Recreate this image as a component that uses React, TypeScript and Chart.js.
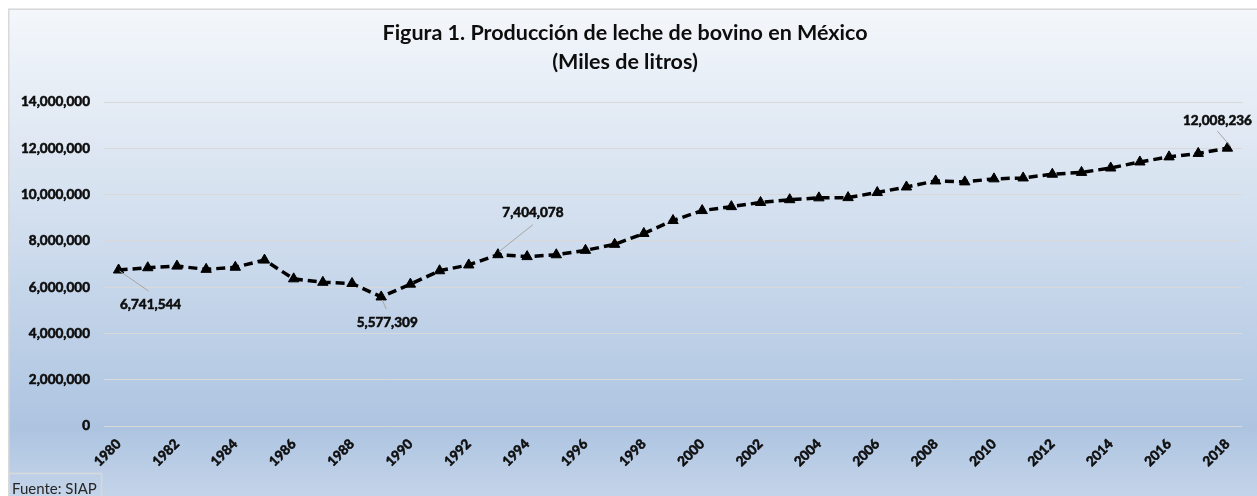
import React, { useEffect, useRef } from 'react';
import { Chart, registerables } from 'chart.js';

Chart.register(...registerables);

const years = [
  '1980', '1981', '1982', '1983', '1984', '1985', '1986', '1987', '1988', '1989',
  '1990', '1991', '1992', '1993', '1994', '1995', '1996', '1997', '1998', '1999',
  '2000', '2001', '2002', '2003', '2004', '2005', '2006', '2007', '2008', '2009',
  '2010', '2011', '2012', '2013', '2014', '2015', '2016', '2017', '2018',
];

const production = [
  6741544, 6840000, 6910000, 6770000, 6860000, 7170000, 6360000, 6210000, 6160000, 5577309,
  6130000, 6710000, 6960000, 7404078, 7320000, 7400000, 7590000, 7850000, 8320000, 8880000,
  9310000, 9480000, 9660000, 9780000, 9860000, 9870000, 10090000, 10330000, 10590000, 10550000,
  10680000, 10720000, 10880000, 10960000, 11150000, 11410000, 11630000, 11780000, 12008236,
];

const yTickValues = [0, 2000000, 4000000, 6000000, 8000000, 10000000, 12000000, 14000000];

const labeledYears = ['1980', '1989', '1993', '2018'];

const titleLines = ['Figura 1. Producción de leche de bovino en México', '(Miles de litros)'];
const sourceText = 'Fuente: SIAP';

// callout placement (style): text offset and leader end relative to the point
const calloutStyle: Record<string, { tx: number; ty: number; lx1: number; ly1: number; lx2: number; ly2: number }> = {
  '1980': { tx: 32, ty: 35, lx1: 1, ly1: 1, lx2: 30, ly2: 21 },
  '1989': { tx: 6, ty: 26, lx1: 1, ly1: 3, lx2: 5, ly2: 12 },
  '1993': { tx: 35, ty: -42, lx1: 1, ly1: -3, lx2: 35, ly2: -30 },
  '2018': { tx: -10, ty: -27, lx1: 3, ly1: -2, lx2: -10, ly2: -17 },
};

const FONT = 'Lato, "Open Sans", sans-serif';
const TEXT_COLOR = '#0d0d0d';
const fmt = (v: number) => v.toLocaleString('en-US');

const W = 1249;
const H = 488;

export default function App() {
  const canvasRef = useRef<HTMLCanvasElement | null>(null);

  useEffect(() => {
    if (!canvasRef.current) return;

    const bgPlugin = {
      id: 'bgPlugin',
      beforeDraw(chart: any) {
        const { ctx, width, height } = chart;
        ctx.save();
        const g = ctx.createLinearGradient(0, 0, 0, height);
        g.addColorStop(0, '#f4f7fb');
        g.addColorStop(0.45, '#d1deee');
        g.addColorStop(0.86, '#adc4e1');
        g.addColorStop(1, '#c4d4e9');
        ctx.fillStyle = g;
        ctx.fillRect(0, 0, width, height);
        ctx.restore();
      },
      afterDraw(chart: any) {
        const { ctx, width, height } = chart;
        ctx.save();
        ctx.strokeStyle = '#d9d9d9';
        ctx.lineWidth = 1.5;
        ctx.strokeRect(0.75, 1.25, width + 10, height + 10);
        // source box
        ctx.font = `15px ${FONT}`;
        const tw = ctx.measureText(sourceText).width;
        ctx.strokeStyle = '#d9d9d9';
        ctx.lineWidth = 1.5;
        ctx.strokeRect(0.75, 465.5, tw + 8, 40);
        ctx.fillStyle = '#262626';
        ctx.textAlign = 'left';
        ctx.textBaseline = 'middle';
        ctx.fillText(sourceText, 4, 481);
        ctx.restore();
      },
    };

    const calloutPlugin = {
      id: 'calloutPlugin',
      afterDatasetsDraw(chart: any) {
        const { ctx } = chart;
        const meta = chart.getDatasetMeta(0);
        ctx.save();
        labeledYears.forEach((yr) => {
          const i = years.indexOf(yr);
          const pt = meta.data[i];
          const s = calloutStyle[yr];
          if (!pt || !s) return;
          const x = pt.x;
          const y = pt.y;
          ctx.strokeStyle = '#a6a6a6';
          ctx.lineWidth = 1;
          ctx.beginPath();
          ctx.moveTo(x + s.lx1, y + s.ly1);
          ctx.lineTo(x + s.lx2, y + s.ly2);
          ctx.stroke();
          ctx.fillStyle = TEXT_COLOR;
          ctx.strokeStyle = TEXT_COLOR;
          ctx.lineWidth = 0.6;
          ctx.font = `bold 13.5px ${FONT}`;
          ctx.textAlign = 'center';
          ctx.textBaseline = 'middle';
          const label = fmt(production[i]);
          ctx.fillText(label, x + s.tx, y + s.ty);
          ctx.strokeText(label, x + s.tx, y + s.ty);
        });
        ctx.restore();
      },
    };

    const chart = new Chart(canvasRef.current, {
      type: 'line',
      data: {
        labels: years,
        datasets: [
          {
            label: 'Producción',
            data: production,
            borderColor: '#000000',
            backgroundColor: '#000000',
            borderWidth: 3.5,
            borderDash: [9, 5],
            borderCapStyle: 'butt',
            tension: 0,
            pointStyle: 'triangle',
            pointRadius: 6,
            pointBorderWidth: 1,
            pointBackgroundColor: '#000000',
            pointBorderColor: '#000000',
          },
        ],
      },
      options: {
        animation: false,
        responsive: true,
        maintainAspectRatio: false,
        layout: { padding: { left: 0, right: 15, top: 0, bottom: 0 } },
        plugins: {
          legend: { display: false },
          tooltip: { enabled: false },
          title: {
            display: true,
            text: titleLines,
            color: TEXT_COLOR,
            font: { family: FONT, size: 21.5, weight: 'bold', lineHeight: 1.35 },
            padding: { top: 10.5, bottom: 25.5 },
          },
        },
        scales: {
          x: {
            offset: true,
            grid: { display: false },
            border: { display: false },
            ticks: {
              autoSkip: false,
              maxRotation: 45,
              minRotation: 45,
              color: TEXT_COLOR,
              textStrokeColor: TEXT_COLOR,
              textStrokeWidth: 0.6,
              padding: 2,
              font: { family: FONT, size: 13.5, weight: 'bold' },
              callback: (_v: any, idx: number) => (idx % 2 === 0 ? years[idx] : ''),
            },
            afterFit: (scale: any) => {
              scale.height = 70;
            },
          },
          y: {
            min: 0,
            max: 14000000,
            border: { display: false },
            grid: { color: '#d9d9d9', lineWidth: 1, drawTicks: false },
            afterBuildTicks: (scale: any) => {
              scale.ticks = yTickValues.map((v) => ({ value: v }));
            },
            ticks: {
              color: TEXT_COLOR,
              textStrokeColor: TEXT_COLOR,
              textStrokeWidth: 0.6,
              padding: 14,
              font: { family: FONT, size: 13.5, weight: 'bold' },
              callback: (v: any) => fmt(Number(v)),
            },
            afterFit: (scale: any) => {
              scale.width = 96;
            },
          },
        },
      },
      plugins: [bgPlugin, calloutPlugin],
    } as any);

    return () => chart.destroy();
  }, []);

  return (
    <div style={{ position: 'absolute', left: 8, top: 8, width: W, height: H }}>
      <canvas ref={canvasRef} />
    </div>
  );
}
